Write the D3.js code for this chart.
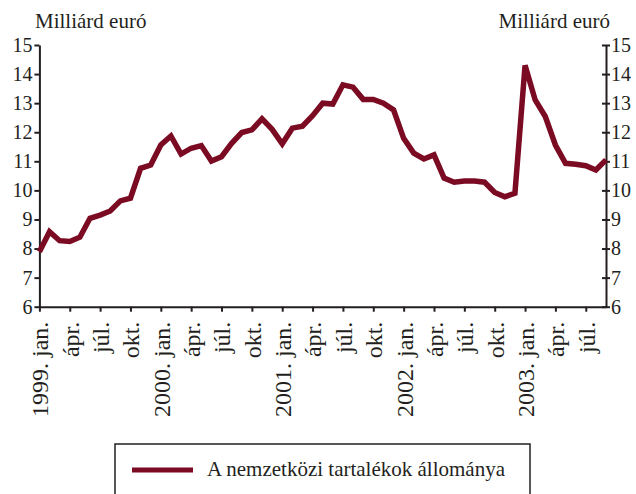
<!DOCTYPE html>
<meta charset="utf-8">
<style>
  body { margin: 0; background: #fff; }
  text { font-family: "Liberation Serif", "Times New Roman", serif; fill: #231f20; }
</style>
<body>
<script src="https://d3js.org/d3.v7.min.js"></script>
<script>
  // monthly reserves, 1999 jan .. 2003 sep
  var values = [7.89, 8.58, 8.27, 8.24, 8.39, 9.04, 9.15, 9.29, 9.64, 9.73, 10.76, 10.87,
    11.56, 11.87, 11.25, 11.45, 11.54, 11.01, 11.16, 11.62, 11.99, 12.08, 12.46, 12.10,
    11.60, 12.14, 12.21, 12.57, 13.00, 12.97, 13.63, 13.55, 13.13, 13.13, 13.00, 12.77,
    11.79, 11.28, 11.08, 11.22, 10.42, 10.28, 10.32, 10.32, 10.28, 9.93, 9.78, 9.90,
    14.30, 13.11, 12.54, 11.56, 10.93, 10.90, 10.85, 10.70, 11.05];
  var tickLabels = ["1999. jan.", "ápr.", "júl.", "okt.",
    "2000. jan.", "ápr.", "júl.", "okt.",
    "2001. jan.", "ápr.", "júl.", "okt.",
    "2002. jan.", "ápr.", "júl.", "okt.",
    "2003. jan.", "ápr.", "júl."];
  var yTicks = [6, 7, 8, 9, 10, 11, 12, 13, 14, 15];
  var unitLabel = "Milliárd euró";
  var seriesName = "A nemzetközi tartalékok állománya";

  var W = 636, H = 494;
  // plot edges (avoid the name "top", it clashes with window.top)
  var margin = {left: 39.4, right: 606, top: 45, bottom: 306.7};
  var ink = "#231f20", red = "#7b0a23";

  var svg = d3.select("body").append("svg")
      .attr("width", W)
      .attr("height", H);

  var x = d3.scaleLinear().domain([0, values.length - 1]).range([margin.left, margin.right]);
  var y = d3.scaleLinear().domain([6, 15]).range([margin.bottom, margin.top]);

  // left axis
  var gl = svg.append("g")
      .attr("transform", "translate(" + margin.left + ",0)")
      .call(d3.axisLeft(y).tickValues(yTicks).tickSize(5).tickSizeOuter(0).tickPadding(2));
  // right axis
  var gr = svg.append("g")
      .attr("transform", "translate(" + margin.right + ",0)")
      .call(d3.axisRight(y).tickValues(yTicks).tickSize(4).tickSizeOuter(0).tickPadding(1));
  gr.selectAll(".tick line").attr("x1", -4);

  [gl, gr].forEach(function(g) {
    g.select(".domain").attr("stroke", ink).attr("stroke-width", 2);
    g.selectAll(".tick line").attr("stroke", ink).attr("stroke-width", 2);
    g.selectAll(".tick text").style("font-size", "20px").attr("fill", ink);
  });

  // bottom axis
  var tickIdx = tickLabels.map(function(d, i) { return i * 3; });
  var gb = svg.append("g")
      .attr("transform", "translate(0," + margin.bottom + ")")
      .call(d3.axisBottom(x).tickValues(tickIdx).tickSize(5).tickSizeOuter(0)
        .tickFormat(function(d, i) { return tickLabels[i]; }));
  gb.select(".domain").attr("stroke", ink).attr("stroke-width", 2);
  gb.selectAll(".tick line").attr("stroke", ink).attr("stroke-width", 2);
  gb.selectAll(".tick text")
      .style("font-size", "24px")
      .attr("fill", ink)
      .attr("text-anchor", "end")
      .attr("transform", "rotate(-90)")
      .attr("x", -15)
      .attr("y", 0)
      .attr("dy", "0.35em");

  // unit labels
  svg.append("text").attr("x", 35).attr("y", 28)
      .style("font-size", "21px").text(unitLabel);
  svg.append("text").attr("x", 610).attr("y", 28).attr("text-anchor", "end")
      .style("font-size", "21px").text(unitLabel);

  // series
  var line = d3.line()
      .x(function(d, i) { return x(i); })
      .y(function(d) { return y(d); });
  svg.append("path")
      .datum(values)
      .attr("fill", "none")
      .attr("stroke", red)
      .attr("stroke-width", 5.5)
      .attr("stroke-linejoin", "miter")
      .attr("d", line);

  // legend
  svg.append("rect")
      .attr("x", 115).attr("y", 444)
      .attr("width", 415).attr("height", 60)
      .attr("fill", "none")
      .attr("stroke", ink)
      .attr("stroke-width", 1.5);
  svg.append("line")
      .attr("x1", 132).attr("x2", 193)
      .attr("y1", 470).attr("y2", 470)
      .attr("stroke", red)
      .attr("stroke-width", 5);
  svg.append("text").attr("x", 207).attr("y", 476)
      .style("font-size", "21px").text(seriesName);
</script>
</body>
